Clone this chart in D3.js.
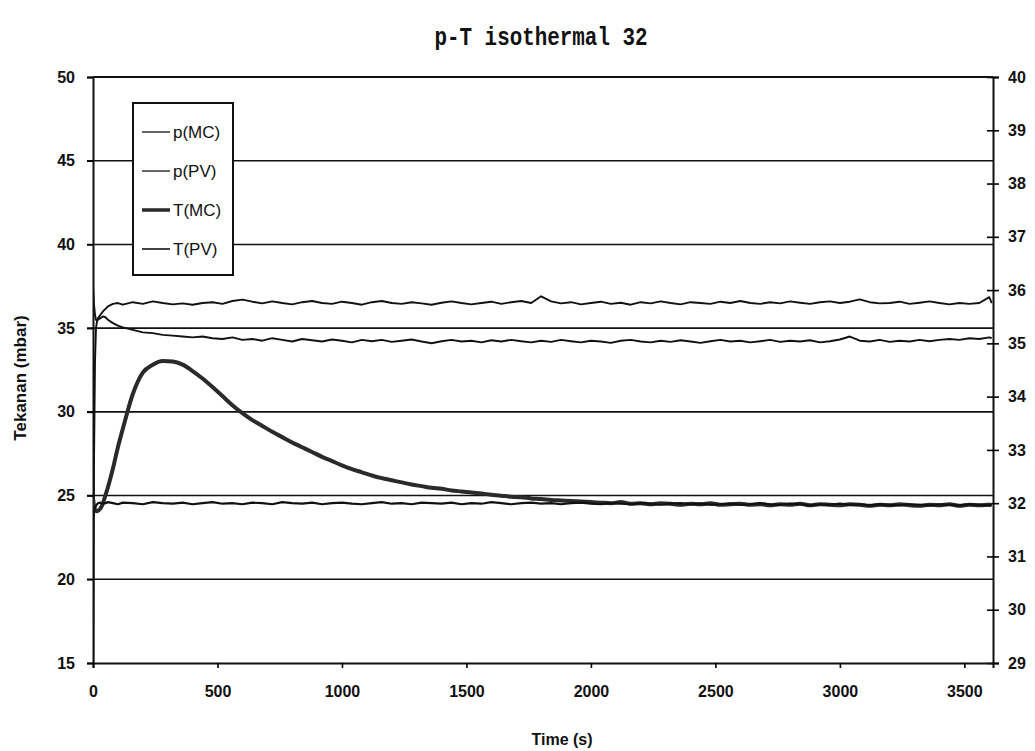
<!DOCTYPE html>
<html>
<head>
<meta charset="utf-8">
<script src="https://cdn.jsdelivr.net/npm/d3@7"></script>
<style>
  body { margin: 0; background: #fff; }
  svg text { font-family: "Liberation Sans", Arial, sans-serif; fill: #111; }
</style>
</head>
<body>
<div id="container"></div>
<script>
/* DATA */
const times = [
    0, 4, 8, 12, 16, 20, 30, 40, 50, 60, 80, 100, 120,
    160, 200, 240, 280, 320, 360, 400, 440, 480, 520,
    560, 600, 640, 680, 720, 760, 800, 840, 880, 920,
    960, 1000, 1040, 1080, 1120, 1160, 1200, 1240, 1280, 1320,
    1360, 1400, 1440, 1480, 1520, 1560, 1600, 1640, 1680, 1720,
    1760, 1800, 1840, 1880, 1920, 1960, 2000, 2040, 2080, 2120,
    2160, 2200, 2240, 2280, 2320, 2360, 2400, 2440, 2480, 2520,
    2560, 2600, 2640, 2680, 2720, 2760, 2800, 2840, 2880, 2920,
    2960, 3000, 3040, 3080, 3120, 3160, 3200, 3240, 3280, 3320,
    3360, 3400, 3440, 3480, 3520, 3560, 3600, 3610
]
// pressure, mbar (left axis)
const pMC = [
    8, 27, 33, 35.0, 35.4, 35.6, 35.8, 36.0, 36.15, 36.3, 36.45, 36.5, 36.4,
    36.55, 36.45, 36.6, 36.5, 36.42, 36.48, 36.4, 36.5, 36.55, 36.45,
    36.62, 36.7, 36.58, 36.48, 36.6, 36.5, 36.42, 36.55, 36.62, 36.5,
    36.45, 36.58, 36.5, 36.4, 36.55, 36.62, 36.5, 36.45, 36.55, 36.48,
    36.4, 36.52, 36.6, 36.5, 36.42, 36.5, 36.58, 36.45, 36.55, 36.62,
    36.5, 36.9, 36.6, 36.48, 36.55, 36.42, 36.5, 36.58, 36.45, 36.52,
    36.4, 36.55, 36.48, 36.6, 36.5, 36.42, 36.55, 36.5, 36.45, 36.58,
    36.5, 36.62, 36.5, 36.45, 36.55, 36.48, 36.6, 36.52, 36.45, 36.55,
    36.6, 36.5, 36.58, 36.72, 36.55, 36.48, 36.5, 36.58, 36.45, 36.52,
    36.6, 36.5, 36.42, 36.5, 36.45, 36.5, 36.85, 36.5
]
const pPV = [
    37.6, 36.4, 35.8, 35.5, 35.45, 35.5, 35.6, 35.7, 35.65, 35.5, 35.3, 35.15, 35.05,
    34.9, 34.75, 34.7, 34.6, 34.55, 34.5, 34.45, 34.5, 34.4, 34.35,
    34.45, 34.3, 34.35, 34.25, 34.4, 34.3, 34.2, 34.35, 34.28, 34.2,
    34.32, 34.25, 34.15, 34.3, 34.22, 34.3, 34.18, 34.25, 34.32, 34.2,
    34.1, 34.22, 34.3, 34.2, 34.25, 34.15, 34.28, 34.2, 34.3, 34.22,
    34.15, 34.25, 34.18, 34.3, 34.22, 34.15, 34.25, 34.2, 34.12, 34.25,
    34.3, 34.2, 34.15, 34.25, 34.18, 34.28, 34.2, 34.12, 34.22, 34.3,
    34.2, 34.25, 34.15, 34.22, 34.3, 34.18, 34.25, 34.2, 34.28, 34.15,
    34.22, 34.32, 34.5, 34.25, 34.2, 34.3, 34.18, 34.25, 34.2, 34.3,
    34.22, 34.3, 34.35, 34.3, 34.4, 34.35, 34.45, 34.4
]
// temperature, deg C (right axis)
const tMC = [
    32.1, 31.95, 31.88, 31.85, 31.85, 31.86, 31.9, 32.0, 32.15, 32.3, 32.65, 33.05, 33.4,
    34.05, 34.45, 34.6, 34.67, 34.66, 34.6, 34.48, 34.34, 34.18, 34.01,
    33.84, 33.69, 33.56, 33.45, 33.34, 33.24, 33.14, 33.05, 32.96, 32.87,
    32.79, 32.71, 32.64, 32.58, 32.52, 32.47, 32.43, 32.39, 32.35, 32.32,
    32.29, 32.27, 32.24, 32.22, 32.2, 32.18, 32.16, 32.14, 32.12, 32.11,
    32.09, 32.08, 32.06, 32.05, 32.04, 32.03, 32.02, 32.01, 32.0, 32.02,
    31.99, 32.0, 31.98, 32.0, 31.99, 31.97, 31.99, 31.98, 32.0, 31.97,
    31.98, 31.99, 31.97, 31.98, 31.96, 31.98, 31.97, 31.99, 31.96, 31.98,
    31.97, 31.96, 31.98, 31.97, 31.95, 31.97, 31.96, 31.98, 31.96, 31.95,
    31.97, 31.96, 31.98, 31.95, 31.97, 31.96, 31.97, 31.96
]
const tPV = [
    31.7, 31.85, 31.92, 31.95, 31.98, 32.0, 32.01, 31.99, 32.0, 32.02, 32.0, 31.98, 32.01,
    32.0, 31.98, 32.02, 32.0, 31.99, 32.01, 31.98, 32.0, 32.02, 31.99,
    32.0, 31.98, 32.01, 32.0, 31.98, 32.02, 32.0, 31.99, 32.01, 31.98,
    32.0, 32.01, 31.99, 31.98, 32.0, 32.02, 31.99, 32.0, 31.98, 32.01,
    32.0, 31.99, 32.01, 31.98, 32.0, 31.99, 32.02, 32.0, 31.98, 32.0,
    32.01, 31.99, 32.0, 31.98, 32.0, 32.01, 31.99, 31.98, 32.0, 31.99,
    31.98, 32.0, 31.99, 31.97, 31.99, 32.0, 31.98, 31.99, 31.97, 31.98,
    31.99, 31.97, 31.98, 32.0, 31.98, 31.97, 31.99, 31.98, 31.96, 31.98,
    31.97, 31.99, 31.97, 31.98, 31.96, 31.98, 31.97, 31.96, 31.98, 31.97,
    31.96, 31.98, 31.97, 31.96, 31.98, 31.97, 31.96, 31.97
]
const seriesNames = ["p(MC)", "p(PV)", "T(MC)", "T(PV)"]
const leftTicks = [15, 20, 25, 30, 35, 40, 45, 50]
const rightTicks = [29, 30, 31, 32, 33, 34, 35, 36, 37, 38, 39, 40]
const timeTicks = [0, 500, 1000, 1500, 2000, 2500, 3000, 3500]

const WIDTH = 1035
const HEIGHT = 751
const plot = { left: 93, right: 993, top: 77, bottom: 663 }

/* SCALES */
const x = d3.scaleLinear().domain([0, 3615]).range([plot.left, plot.right])
const yLeft = d3.scaleLinear().domain([15, 50]).range([plot.bottom, plot.top])
const yRight = d3.scaleLinear().domain([29, 40]).range([plot.bottom, plot.top])

const series = [
    { name: seriesNames[0], values: pMC, y: yLeft, width: 1.9, key: 1.3, color: "#111", curve: d3.curveLinear },
    { name: seriesNames[1], values: pPV, y: yLeft, width: 1.9, key: 1.3, color: "#111", curve: d3.curveLinear },
    { name: seriesNames[2], values: tMC, y: yRight, width: 4, key: 3.5, color: "#2a2a2a", curve: d3.curveMonotoneX },
    { name: seriesNames[3], values: tPV, y: yRight, width: 2.2, key: 1.6, color: "#111", curve: d3.curveLinear }
]

/* SVG ELEMENT */
const svg = d3.select("#container")
    .append("svg")
    .attr("width", WIDTH)
    .attr("height", HEIGHT)

svg.append("defs")
    .append("clipPath")
    .attr("id", "plot-clip")
    .append("rect")
    .attr("x", plot.left)
    .attr("y", plot.top)
    .attr("width", plot.right - plot.left)
    .attr("height", plot.bottom - plot.top)

/* TITLE */
svg.append("text")
    .attr("transform", "translate(541, 45) scale(0.95, 1.15)")
    .attr("text-anchor", "middle")
    .style("font-family", "'Liberation Mono', 'DejaVu Sans Mono', monospace")
    .style("font-weight", "bold")
    .style("font-size", "22px")
    .text("p-T isothermal 32")

/* GRID LINES */
svg.selectAll(".grid")
    .data(leftTicks.slice(1, -1))
    .join("line")
    .attr("class", "grid")
    .attr("x1", plot.left - 6)
    .attr("x2", plot.right)
    .attr("y1", d => yLeft(d))
    .attr("y2", d => yLeft(d))
    .attr("stroke", "#111")
    .attr("stroke-width", 1.6)

function styleTicks(g) {
    g.select(".domain").attr("stroke-width", 2).attr("stroke", "#111")
    g.selectAll(".tick line").attr("stroke-width", 1.6)
    g.selectAll(".tick text")
        .style("font-size", "16px")
        .style("font-weight", "bold")
        .attr("fill", "#111")
}

/* LEFT AXIS */
svg.append("g")
    .attr("transform", `translate(${plot.left}, 0)`)
    .call(d3.axisLeft(yLeft).tickValues(leftTicks).tickSize(6).tickPadding(12))
    .call(styleTicks)

/* RIGHT AXIS */
svg.append("g")
    .attr("transform", `translate(${plot.right}, 0)`)
    .call(d3.axisRight(yRight).tickValues(rightTicks).tickSize(6).tickPadding(9))
    .call(styleTicks)
    .call(g => g.selectAll(".tick line").attr("x1", -6))

/* X AXIS */
svg.append("g")
    .attr("transform", `translate(0, ${plot.bottom})`)
    .call(d3.axisBottom(x).tickValues(timeTicks).tickFormat(d3.format("d")).tickSize(5).tickPadding(18))
    .call(styleTicks)

/* TOP BORDER */
svg.append("line")
    .attr("x1", plot.left)
    .attr("x2", plot.right)
    .attr("y1", yLeft(50))
    .attr("y2", yLeft(50))
    .attr("stroke", "#111")
    .attr("stroke-width", 2)

/* AXIS TITLES */
svg.append("text")
    .attr("x", 562)
    .attr("y", 745)
    .attr("text-anchor", "middle")
    .style("font-size", "16px")
    .style("font-weight", "bold")
    .text("Time (s)")

svg.append("text")
    .attr("transform", `translate(26, 378) rotate(-90)`)
    .attr("text-anchor", "middle")
    .style("font-size", "17px")
    .style("font-weight", "bold")
    .text("Tekanan (mbar)")

/* LINES */
const lines = svg.append("g").attr("clip-path", "url(#plot-clip)")
series.forEach(s => {
    const line = d3.line()
        .x((d, i) => x(times[i]))
        .y(d => s.y(d))
        .curve(s.curve)
    lines.append("path")
        .datum(s.values)
        .attr("fill", "none")
        .attr("stroke", s.color)
        .attr("stroke-width", s.width)
        .attr("stroke-linejoin", "round")
        .attr("d", line)
})

/* LEGEND */
const legend = svg.append("g").attr("transform", "translate(133, 103)")
legend.append("rect")
    .attr("width", 100)
    .attr("height", 172)
    .attr("fill", "#fff")
    .attr("stroke", "#111")
    .attr("stroke-width", 2)

const rows = legend.selectAll(".legend-row")
    .data(series)
    .join("g")
    .attr("class", "legend-row")
    .attr("transform", (d, i) => `translate(0, ${29 + i * 39})`)
rows.append("line")
    .attr("x1", 9)
    .attr("x2", 37)
    .attr("stroke", d => d.color)
    .attr("stroke-width", d => d.key)
rows.append("text")
    .attr("x", 40)
    .attr("dy", "0.35em")
    .style("font-size", "17px")
    .text(d => d.name)
</script>
</body>
</html>
